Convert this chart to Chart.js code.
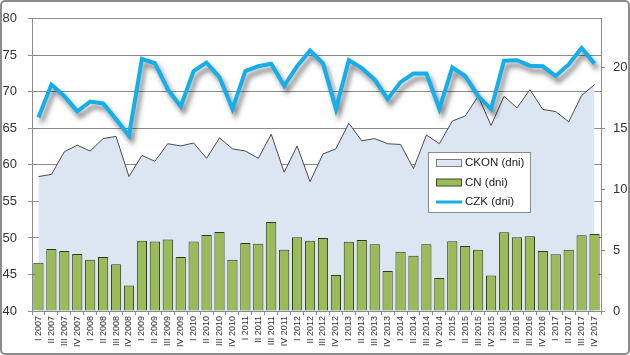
<!DOCTYPE html>
<html>
<head>
<meta charset="utf-8">
<script src="https://cdn.jsdelivr.net/npm/chart.js@4.4.1/dist/chart.umd.min.js"></script>
<style>
html,body{margin:0;padding:0;background:#fff;}
#wrap{position:relative;width:630px;height:355px;}
canvas{display:block;}
</style>
</head>
<body>
<div id="wrap"><canvas id="c" width="630" height="355"></canvas></div>
<script>
const categories = [
 "I 2007","II 2007","III 2007","IV 2007",
 "I 2008","II 2008","III 2008","IV 2008",
 "I 2009","II 2009","III 2009","IV 2009",
 "I 2010","II 2010","III 2010","IV 2010",
 "I 2011","II 2011","III 2011","IV 2011",
 "I 2012","II 2012","III 2012","IV 2012",
 "I 2013","II 2013","III 2013","IV 2013",
 "I 2014","II 2014","III 2014","IV 2014",
 "I 2015","II 2015","III 2015","IV 2015",
 "I 2016","II 2016","III 2016","IV 2016",
 "I 2017","II 2017","III 2017","IV 2017"
];
// CKON (dni) - left axis
const ckon = [
 58.4,58.7,61.8,62.7, 61.9,63.6,63.9,58.4,
 61.3,60.5,62.9,62.6, 63.0,60.9,63.7,62.2,
 61.9,60.9,64.2,59.0, 62.6,57.7,61.5,62.2,
 65.7,63.3,63.6,62.9, 62.8,59.5,64.1,62.9,
 66.0,66.7,69.4,65.4, 69.4,67.8,70.3,67.6,
 67.3,65.9,69.5,71.0
];
// CN (dni) - right axis
const cn = [
 3.96,5.10,4.92,4.68, 4.20,4.44,3.84,2.10,
 5.76,5.70,5.88,4.44, 5.70,6.24,6.48,4.20,
 5.58,5.52,7.32,5.04, 6.06,5.76,6.00,2.96,
 5.68,5.84,5.49,3.29, 4.86,4.54,5.49,2.72,
 5.73,5.33,5.03,2.91, 6.47,6.06,6.14,4.92,
 4.67,5.03,6.22,6.33
];
// CZK (dni) - right axis
const czk = [
 15.9,18.6,17.65,16.4, 17.2,17.05,15.75,14.4,
 20.7,20.35,18.2,16.8, 19.7,20.4,19.2,16.6,
 19.7,20.1,20.3,18.5, 20.1,21.4,20.35,16.6,
 20.6,19.95,19.0,17.4, 18.8,19.5,19.5,16.6,
 20.0,19.3,17.65,16.6, 20.55,20.6,20.15,20.1,
 19.3,20.25,21.6,20.3
];
const leftTicks = [40,45,50,55,60,65,70,75,80];
const rightTicks = [0,5,10,15,20];

const FONT = "'Liberation Sans', Arial, sans-serif";

const shadowPlugin = {
  id: 'shadowLine',
  beforeDatasetDraw(chart, args) {
    if (args.meta.type === 'line' && chart.data.datasets[args.index].shadow) {
      const ctx = chart.ctx;
      ctx.save();
      ctx.shadowColor = 'rgba(0,0,0,0.5)';
      ctx.shadowBlur = 5;
      ctx.shadowOffsetX = 3;
      ctx.shadowOffsetY = 5;
    }
  },
  afterDatasetDraw(chart, args) {
    if (args.meta.type === 'line' && chart.data.datasets[args.index].shadow) {
      chart.ctx.restore();
    }
  }
};

const legendPlugin = {
  id: 'boxLegend',
  afterDraw(chart) {
    const ctx = chart.ctx;
    const x0 = 428.5, y0 = 152.5, w = 102, h = 60;
    ctx.save();
    ctx.fillStyle = '#ffffff';
    ctx.fillRect(x0, y0, w, h);
    ctx.strokeStyle = '#8a8a8a';
    ctx.lineWidth = 1;
    ctx.strokeRect(x0, y0, w, h);
    const rows = [163, 182.5, 202];
    const ds = chart.data.datasets;
    ctx.font = "11.5px " + FONT;
    ctx.textBaseline = 'middle';
    [0, 1, 2].forEach((di, r) => {
      const d = ds[di];
      const y = rows[r];
      if (d.type === 'line' && !d.fill) {
        ctx.strokeStyle = d.borderColor;
        ctx.lineWidth = 3;
        ctx.beginPath();
        ctx.moveTo(436, y);
        ctx.lineTo(462, y);
        ctx.stroke();
      } else {
        ctx.fillStyle = d.backgroundColor;
        ctx.fillRect(436.5, y - 3.5, 25, 7);
        ctx.strokeStyle = d.legendBorder;
        ctx.lineWidth = 1;
        ctx.strokeRect(436.5, y - 3.5, 25, 7);
      }
      ctx.fillStyle = '#222';
      ctx.fillText(d.label, 465, y);
    });
    ctx.restore();
  }
};

const framePlugin = {
  id: 'frame',
  afterDraw(chart) {
    const ctx = chart.ctx;
    ctx.save();
    ctx.strokeStyle = '#8c8c8c';
    ctx.lineWidth = 2;
    const x = 1, y = 1, w = 628, h = 353, r = 4;
    ctx.beginPath();
    ctx.moveTo(x + r, y);
    ctx.lineTo(x + w - r, y);
    ctx.arcTo(x + w, y, x + w, y + r, r);
    ctx.lineTo(x + w, y + h - r);
    ctx.arcTo(x + w, y + h, x + w - r, y + h, r);
    ctx.lineTo(x + r, y + h);
    ctx.arcTo(x, y + h, x, y + h - r, r);
    ctx.lineTo(x, y + r);
    ctx.arcTo(x, y, x + r, y, r);
    ctx.stroke();
    ctx.restore();
  }
};

new Chart(document.getElementById('c'), {
  type: 'bar',
  data: {
    labels: categories,
    datasets: [
      {
        type: 'line',
        label: 'CKON (dni)',
        data: ckon,
        yAxisID: 'yL',
        fill: 'start',
        backgroundColor: '#DCE6F2',
        borderColor: '#4a4a4a',
        legendBorder: '#7f7f7f',
        borderWidth: 1,
        pointRadius: 0,
        tension: 0,
        order: 3
      },
      {
        type: 'bar',
        label: 'CN (dni)',
        data: cn,
        yAxisID: 'yR',
        backgroundColor: '#9BBB59',
        borderColor: '#2f3a1c',
        legendBorder: '#3a4a22',
        borderWidth: 1,
        borderSkipped: 'bottom',
        categoryPercentage: 1.0,
        barPercentage: 0.79,
        order: 2
      },
      {
        type: 'line',
        label: 'CZK (dni)',
        data: czk,
        yAxisID: 'yR',
        fill: false,
        borderColor: '#14AEEB',
        backgroundColor: '#14AEEB',
        borderWidth: 4,
        pointRadius: 0,
        tension: 0,
        borderJoinStyle: 'miter',
        shadow: true,
        order: 1
      }
    ]
  },
  options: {
    responsive: false,
    animation: false,
    events: [],
    layout: { padding: { top: 15, left: 0, right: 0, bottom: 0 } },
    plugins: { legend: { display: false }, tooltip: { enabled: false } },
    scales: {
      x: {
        offset: true,
        grid: { display: true, drawOnChartArea: false, drawTicks: true, tickLength: 4, offset: true, color: '#8c8c8c' },
        border: { display: true, color: '#8c8c8c' },
        ticks: {
          autoSkip: false, maxRotation: 90, minRotation: 90, padding: 1,
          color: '#333', font: { size: 9, family: FONT }
        },
        afterFit(s) { s.height = 44; }
      },
      yL: {
        position: 'left',
        min: 40, max: 80,
        afterBuildTicks(s) { s.ticks = leftTicks.map(v => ({ value: v })); },
        grid: { color: '#8c8c8c', tickLength: 4, drawTicks: true },
        border: { display: true, color: '#8c8c8c' },
        ticks: { padding: 11, color: '#333', font: { size: 13, family: FONT } },
        afterFit(s) { s.width = 32; }
      },
      yR: {
        position: 'right',
        min: 0, max: 24,
        afterBuildTicks(s) { s.ticks = rightTicks.map(v => ({ value: v })); },
        grid: { drawOnChartArea: false, tickLength: 4, drawTicks: true, color: '#8c8c8c' },
        border: { display: true, color: '#8c8c8c' },
        ticks: { padding: 8, color: '#333', font: { size: 13, family: FONT } },
        afterFit(s) { s.width = 29; }
      }
    }
  },
  plugins: [shadowPlugin, legendPlugin, framePlugin]
});
</script>
</body>
</html>
